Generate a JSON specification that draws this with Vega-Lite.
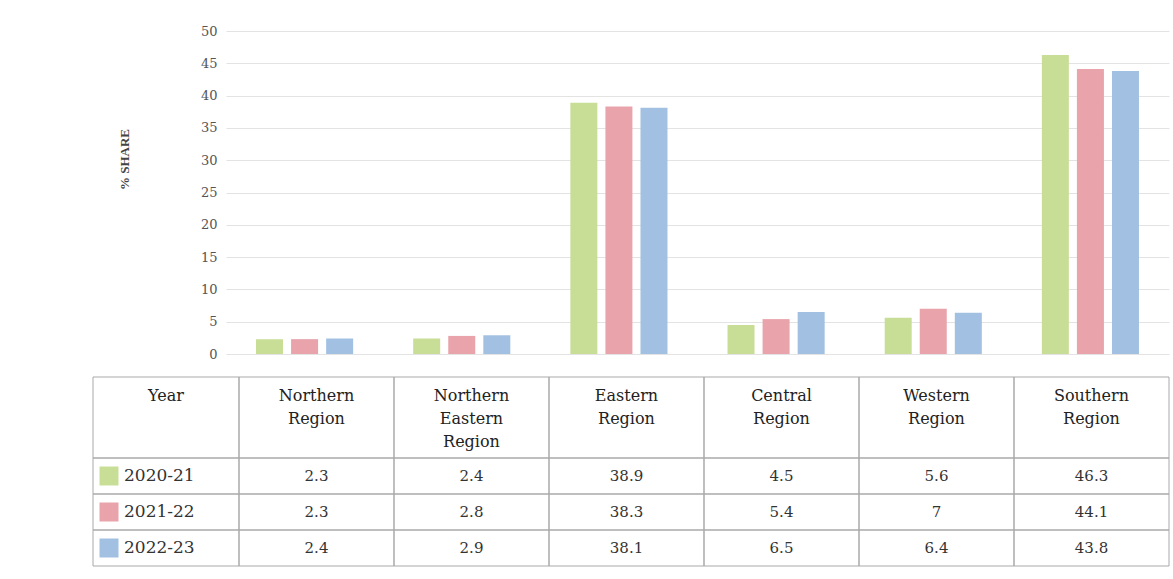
{
  "$schema": "https://vega.github.io/schema/vega-lite/v6.json",
  "background": "white",
  "padding": {"left": 92, "top": 25, "right": 5, "bottom": 5},
  "config": {
    "font": "DejaVu Serif",
    "view": {"stroke": null},
    "text": {"color": "#333333"}
  },
  "datasets": {
    "shares": [
      {"region": "Northern Region", "year": "2020-21", "value": 2.3},
      {"region": "Northern Region", "year": "2021-22", "value": 2.3},
      {"region": "Northern Region", "year": "2022-23", "value": 2.4},
      {"region": "Northern Eastern Region", "year": "2020-21", "value": 2.4},
      {"region": "Northern Eastern Region", "year": "2021-22", "value": 2.8},
      {"region": "Northern Eastern Region", "year": "2022-23", "value": 2.9},
      {"region": "Eastern Region", "year": "2020-21", "value": 38.9},
      {"region": "Eastern Region", "year": "2021-22", "value": 38.3},
      {"region": "Eastern Region", "year": "2022-23", "value": 38.1},
      {"region": "Central Region", "year": "2020-21", "value": 4.5},
      {"region": "Central Region", "year": "2021-22", "value": 5.4},
      {"region": "Central Region", "year": "2022-23", "value": 6.5},
      {"region": "Western Region", "year": "2020-21", "value": 5.6},
      {"region": "Western Region", "year": "2021-22", "value": 7},
      {"region": "Western Region", "year": "2022-23", "value": 6.4},
      {"region": "Southern Region", "year": "2020-21", "value": 46.3},
      {"region": "Southern Region", "year": "2021-22", "value": 44.1},
      {"region": "Southern Region", "year": "2022-23", "value": 43.8}
    ]
  },
  "spacing": 15,
  "vconcat": [
    {
      "bounds": "flush",
      "spacing": 0,
      "hconcat": [
        {
          "width": 133,
          "height": 323,
          "data": {"values": [{"caption": "% SHARE"}]},
          "mark": {"type": "text", "angle": 270, "baseline": "middle", "align": "center", "dx": 33, "dy": -35, "fontSize": 13, "fontWeight": "bold", "color": "#444444", "font": "Liberation Serif"},
          "encoding": {"text": {"field": "caption"}}
        },
        {
          "width": 943,
          "height": 323,
          "data": {"name": "shares"},
          "mark": {"type": "bar"},
          "encoding": {
            "x": {
              "field": "region",
              "type": "nominal",
              "sort": null,
              "scale": {"paddingInner": 0.382, "paddingOuter": 0.191},
              "axis": null
            },
            "xOffset": {
              "field": "year",
              "type": "nominal",
              "scale": {"paddingInner": 0.23, "paddingOuter": 0}
            },
            "y": {
              "field": "value",
              "type": "quantitative",
              "scale": {"domain": [0, 50], "nice": false},
              "axis": {
                "title": null,
                "tickCount": 10,
                "grid": true,
                "gridColor": "#e3e3e3",
                "domain": false,
                "ticks": false,
                "labelPadding": 9,
                "labelFontSize": 13,
                "labelColor": "#555555"
              }
            },
            "color": {
              "field": "year",
              "type": "nominal",
              "scale": {"domain": ["2020-21", "2021-22", "2022-23"], "range": ["#c8de96", "#e8a3ab", "#a2c1e2"]},
              "legend": null
            }
          }
        }
      ]
    },
    {
      "columns": 2,
      "bounds": "flush",
      "spacing": 0,
      "concat": [
        {
          "width": 146,
          "height": 81,
          "data": {"values": [{"head": "Year"}]},
          "layer": [
            {
              "mark": {"type": "rect", "fill": "transparent", "stroke": "#a9a9a9", "strokeWidth": 1},
              "encoding": {}
            },
            {
              "mark": {"type": "text", "baseline": "top", "dy": -30, "fontSize": 16, "color": "#222222"},
              "encoding": {"text": {"field": "head"}}
            }
          ]
        },
        {
          "width": 930,
          "height": 81,
          "data": {"name": "shares"},
          "transform": [{"filter": "datum.year === '2020-21'"}],
          "encoding": {
            "x": {"field": "region", "type": "nominal", "sort": null, "scale": {"paddingInner": 0, "paddingOuter": 0}, "axis": null}
          },
          "layer": [
            {
              "mark": {"type": "rect", "fill": "transparent", "stroke": "#a9a9a9", "strokeWidth": 1}
            },
            {
              "mark": {"type": "text", "baseline": "top", "dy": -30, "fontSize": 16, "color": "#222222", "lineBreak": " ", "lineHeight": 23},
              "encoding": {"text": {"field": "region"}}
            }
          ]
        },
        {
          "width": 146,
          "height": 108,
          "data": {"name": "shares"},
          "transform": [{"filter": "datum.region === 'Northern Region'"}],
          "encoding": {
            "y": {"field": "year", "type": "nominal", "sort": null, "scale": {"paddingInner": 0, "paddingOuter": 0}, "axis": null}
          },
          "layer": [
            {
              "mark": {"type": "rect", "fill": "transparent", "stroke": "#a9a9a9", "strokeWidth": 1}
            },
            {
              "mark": {"type": "point", "shape": "square", "filled": true, "opacity": 1, "size": 361, "xOffset": -57},
              "encoding": {
                "color": {
                  "field": "year",
                  "type": "nominal",
                  "scale": {"domain": ["2020-21", "2021-22", "2022-23"], "range": ["#c8de96", "#e8a3ab", "#a2c1e2"]},
                  "legend": null
                }
              }
            },
            {
              "mark": {"type": "text", "align": "left", "baseline": "middle", "dx": -42, "fontSize": 17},
              "encoding": {"text": {"field": "year"}}
            }
          ]
        },
        {
          "width": 930,
          "height": 108,
          "data": {"name": "shares"},
          "encoding": {
            "x": {"field": "region", "type": "nominal", "sort": null, "scale": {"paddingInner": 0, "paddingOuter": 0}, "axis": null},
            "y": {"field": "year", "type": "nominal", "sort": null, "scale": {"paddingInner": 0, "paddingOuter": 0}, "axis": null}
          },
          "layer": [
            {
              "mark": {"type": "rect", "fill": "transparent", "stroke": "#a9a9a9", "strokeWidth": 1}
            },
            {
              "mark": {"type": "text", "baseline": "middle", "fontSize": 15},
              "encoding": {"text": {"field": "value", "type": "quantitative", "format": ".1~f"}}
            }
          ]
        }
      ]
    }
  ]
}
